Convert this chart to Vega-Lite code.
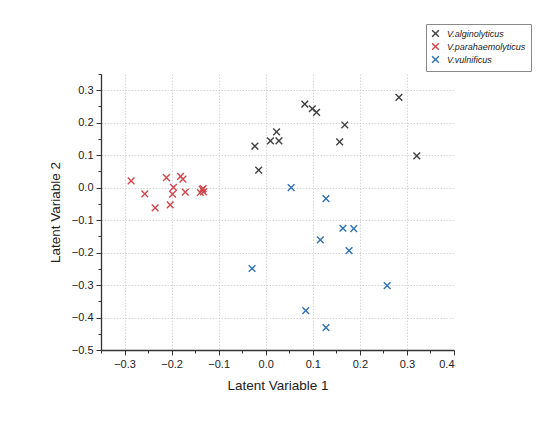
{
  "$schema": "https://vega.github.io/schema/vega-lite/v6.json",
  "description": "Latent variable scores of Vibrio species",
  "autosize": {"type": "none"},
  "width": 353,
  "height": 276,
  "padding": {"left": 101, "top": 74, "right": 96, "bottom": 74},
  "background": "white",
  "data": {
    "values": [
      {"lv1": -0.023, "lv2": 0.128, "species": "V.alginolyticus"},
      {"lv1": -0.015, "lv2": 0.054, "species": "V.alginolyticus"},
      {"lv1": 0.010, "lv2": 0.144, "species": "V.alginolyticus"},
      {"lv1": 0.028, "lv2": 0.144, "species": "V.alginolyticus"},
      {"lv1": 0.023, "lv2": 0.172, "species": "V.alginolyticus"},
      {"lv1": 0.083, "lv2": 0.257, "species": "V.alginolyticus"},
      {"lv1": 0.099, "lv2": 0.243, "species": "V.alginolyticus"},
      {"lv1": 0.108, "lv2": 0.232, "species": "V.alginolyticus"},
      {"lv1": 0.168, "lv2": 0.193, "species": "V.alginolyticus"},
      {"lv1": 0.157, "lv2": 0.141, "species": "V.alginolyticus"},
      {"lv1": 0.283, "lv2": 0.278, "species": "V.alginolyticus"},
      {"lv1": 0.321, "lv2": 0.098, "species": "V.alginolyticus"},
      {"lv1": -0.286, "lv2": 0.021, "species": "V.parahaemolyticus"},
      {"lv1": -0.257, "lv2": -0.019, "species": "V.parahaemolyticus"},
      {"lv1": -0.235, "lv2": -0.062, "species": "V.parahaemolyticus"},
      {"lv1": -0.211, "lv2": 0.031, "species": "V.parahaemolyticus"},
      {"lv1": -0.203, "lv2": -0.053, "species": "V.parahaemolyticus"},
      {"lv1": -0.196, "lv2": 0.001, "species": "V.parahaemolyticus"},
      {"lv1": -0.198, "lv2": -0.020, "species": "V.parahaemolyticus"},
      {"lv1": -0.181, "lv2": 0.035, "species": "V.parahaemolyticus"},
      {"lv1": -0.176, "lv2": 0.026, "species": "V.parahaemolyticus"},
      {"lv1": -0.171, "lv2": -0.014, "species": "V.parahaemolyticus"},
      {"lv1": -0.135, "lv2": -0.005, "species": "V.parahaemolyticus"},
      {"lv1": -0.139, "lv2": -0.015, "species": "V.parahaemolyticus"},
      {"lv1": -0.132, "lv2": -0.013, "species": "V.parahaemolyticus"},
      {"lv1": -0.133, "lv2": -0.003, "species": "V.parahaemolyticus"},
      {"lv1": 0.054, "lv2": 0.000, "species": "V.vulnificus"},
      {"lv1": 0.128, "lv2": -0.034, "species": "V.vulnificus"},
      {"lv1": -0.029, "lv2": -0.249, "species": "V.vulnificus"},
      {"lv1": 0.116, "lv2": -0.161, "species": "V.vulnificus"},
      {"lv1": 0.164, "lv2": -0.125, "species": "V.vulnificus"},
      {"lv1": 0.187, "lv2": -0.126, "species": "V.vulnificus"},
      {"lv1": 0.177, "lv2": -0.194, "species": "V.vulnificus"},
      {"lv1": 0.258, "lv2": -0.302, "species": "V.vulnificus"},
      {"lv1": 0.085, "lv2": -0.379, "species": "V.vulnificus"},
      {"lv1": 0.128, "lv2": -0.431, "species": "V.vulnificus"}
    ]
  },
  "layer": [
    {
      "mark": {"type": "point", "opacity": 0},
      "encoding": {
        "x": {
          "field": "lv1",
          "type": "quantitative",
          "scale": {"domain": [-0.35, 0.4], "nice": false, "zero": false},
          "axis": {
            "orient": "bottom",
            "values": [-0.3, -0.2, -0.1, 0, 0.1, 0.2, 0.3],
            "labels": false,
            "ticks": false,
            "domain": false,
            "grid": true,
            "title": null
          }
        },
        "y": {
          "field": "lv2",
          "type": "quantitative",
          "scale": {"domain": [-0.5, 0.35], "nice": false, "zero": false},
          "axis": {
            "orient": "left",
            "values": [-0.4, -0.3, -0.2, -0.1, 0, 0.1, 0.2, 0.3],
            "labels": false,
            "ticks": false,
            "domain": false,
            "grid": true,
            "title": null
          }
        }
      }
    },
    {
      "mark": {"type": "point", "opacity": 0},
      "encoding": {
        "x": {
          "field": "lv1",
          "type": "quantitative",
          "scale": {"domain": [-0.35, 0.4], "nice": false, "zero": false},
          "axis": {
            "orient": "bottom",
            "values": [-0.35, -0.25, -0.15, -0.05, 0.05, 0.15, 0.25, 0.35],
            "labels": false,
            "grid": false,
            "domain": false,
            "tickSize": 3,
            "title": null
          }
        },
        "y": {
          "field": "lv2",
          "type": "quantitative",
          "scale": {"domain": [-0.5, 0.35], "nice": false, "zero": false},
          "axis": {
            "orient": "left",
            "values": [-0.45, -0.35, -0.25, -0.15, -0.05, 0.05, 0.15, 0.25, 0.35],
            "labels": false,
            "grid": false,
            "domain": false,
            "tickSize": 3,
            "title": null
          }
        }
      }
    },
    {
      "mark": {
        "type": "point",
        "shape": "M-1,-1L1,1M1,-1L-1,1",
        "filled": false,
        "size": 45,
        "strokeWidth": 1.4,
        "opacity": 1
      },
      "encoding": {
        "x": {
          "field": "lv1",
          "type": "quantitative",
          "scale": {"domain": [-0.35, 0.4], "nice": false, "zero": false},
          "axis": {
            "orient": "bottom",
            "values": [-0.3, -0.2, -0.1, 0, 0.1, 0.2, 0.3, 0.4],
            "format": ".1f",
            "grid": false,
            "title": "Latent Variable 1",
            "titlePadding": 9
          }
        },
        "y": {
          "field": "lv2",
          "type": "quantitative",
          "scale": {"domain": [-0.5, 0.35], "nice": false, "zero": false},
          "axis": {
            "orient": "left",
            "values": [-0.5, -0.4, -0.3, -0.2, -0.1, 0, 0.1, 0.2, 0.3],
            "format": ".1f",
            "grid": false,
            "title": "Latent Variable 2",
            "titlePadding": 9
          }
        },
        "color": {
          "field": "species",
          "type": "nominal",
          "scale": {
            "domain": ["V.alginolyticus", "V.parahaemolyticus", "V.vulnificus"],
            "range": ["#404040", "#d2464c", "#2f71b3"]
          },
          "legend": {
            "title": null,
            "orient": "none",
            "legendX": 325,
            "legendY": -50,
            "strokeColor": "#8a8a8a",
            "padding": 5,
            "symbolType": "M-1,-1L1,1M1,-1L-1,1",
            "symbolSize": 45,
            "symbolStrokeWidth": 1.4,
            "symbolFillColor": "transparent",
            "labelFont": "Liberation Sans",
            "labelFontSize": 9,
            "labelFontStyle": "italic",
            "labelColor": "#222",
            "rowPadding": 0,
            "labelOffset": 7
          }
        }
      }
    }
  ],
  "resolve": {"axis": {"x": "independent", "y": "independent"}},
  "config": {
    "view": {"stroke": null},
    "axis": {
      "labelFont": "Liberation Sans",
      "labelFontSize": 11,
      "labelColor": "#222",
      "labelPadding": 3,
      "titleFont": "Liberation Sans",
      "titleFontSize": 13.5,
      "titleFontWeight": "normal",
      "titleColor": "#222",
      "domainColor": "#333",
      "domainWidth": 1.3,
      "tickColor": "#333",
      "tickWidth": 1,
      "tickSize": 5,
      "gridColor": "#cccccc",
      "gridDash": [1.5, 1.5],
      "gridWidth": 0.8
    }
  }
}
